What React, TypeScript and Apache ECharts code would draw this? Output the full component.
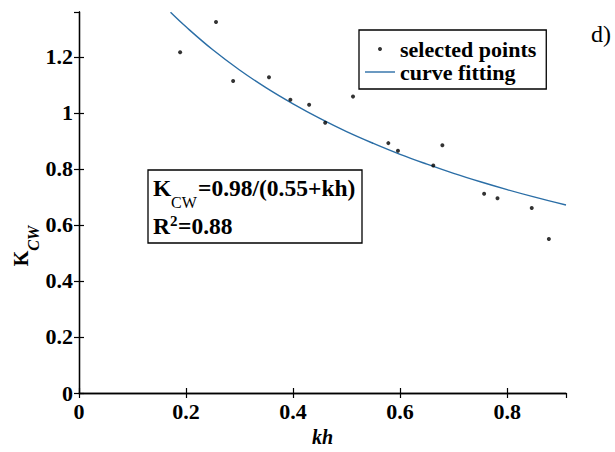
import React, { useEffect, useRef } from "react";
import * as echarts from "echarts";

const khPoints = [0.189, 0.256, 0.288, 0.355, 0.395, 0.43, 0.46, 0.512, 0.578, 0.596, 0.662, 0.679, 0.757, 0.782, 0.846, 0.878];
const kcwPoints = [1.216, 1.324, 1.114, 1.127, 1.047, 1.029, 0.965, 1.058, 0.892, 0.865, 0.812, 0.884, 0.711, 0.695, 0.66, 0.55];
const khCurve = [0.171, 0.2, 0.25, 0.3, 0.35, 0.4, 0.45, 0.5, 0.55, 0.6, 0.65, 0.7, 0.75, 0.8, 0.85, 0.91];
const kcwCurve = [1.359, 1.307, 1.225, 1.153, 1.089, 1.032, 0.98, 0.933, 0.891, 0.852, 0.817, 0.784, 0.754, 0.726, 0.7, 0.671];
const seriesNames = ["selected points", "curve fitting"];

const FONT = "Liberation Serif";

export default function App() {
  const ref = useRef<HTMLDivElement>(null);
  useEffect(() => {
    if (!ref.current) return;
    const chart = echarts.init(ref.current, null, { renderer: "svg" });
    const axisLine = { show: true, lineStyle: { color: "#000", width: 1.3 } };
    const tick = { show: true, inside: true, length: 5, lineStyle: { color: "#000", width: 1.2 } };
    const label = { fontFamily: FONT, fontWeight: "bold" as const, fontSize: 22, color: "#000", showMaxLabel: false };
    const t = (text: string, x: number, y: number, size: number, bold = true) => ({
      type: "text",
      x,
      y,
      z: 11,
      style: {
        text,
        fontFamily: FONT,
        fontSize: size,
        fontWeight: bold ? "bold" : "normal",
        fill: "#000",
        align: "left",
        verticalAlign: "middle",
      },
    });
    chart.setOption({
      animation: false,
      backgroundColor: "#fff",
      textStyle: { fontFamily: FONT },
      grid: { left: 79, right: 49, top: 12, bottom: 48, containLabel: false },
      xAxis: [
        {
          type: "value", min: 0, max: 0.91, interval: 0.2, position: "bottom",
          axisLine, axisTick: tick, splitLine: { show: false },
          axisLabel: { ...label, margin: 7 },
          name: "kh", nameLocation: "middle", nameGap: 34,
          nameTextStyle: { fontFamily: FONT, fontWeight: "bold", fontStyle: "italic", fontSize: 20, color: "#000" },
        },
        {
          type: "value", min: 0, max: 0.91, interval: 0.2, position: "top",
          axisLine, axisTick: tick, splitLine: { show: false }, axisLabel: { show: false },
        },
      ],
      yAxis: [
        {
          type: "value", min: 0, max: 1.36, interval: 0.2, position: "left",
          axisLine, axisTick: tick, splitLine: { show: false },
          axisLabel: { ...label, margin: 6 },
        },
        {
          type: "value", min: 0, max: 1.36, interval: 0.2, position: "right",
          axisLine, axisTick: tick, splitLine: { show: false }, axisLabel: { show: false },
        },
      ],
      legend: {
        orient: "vertical",
        left: 359,
        top: 30,
        padding: [8, 10, 6, 6],
        itemGap: 1,
        itemWidth: 30,
        itemHeight: 4,
        borderColor: "#000",
        borderWidth: 1.3,
        backgroundColor: "#fff",
        selectedMode: false,
        textStyle: { fontFamily: FONT, fontWeight: "bold", fontSize: 22, color: "#000", lineHeight: 21 },
        data: [
          { name: seriesNames[0], icon: "circle" },
          { name: seriesNames[1], icon: "path://M0,0L30,0L30,1.4L0,1.4Z" },
        ],
      },
      graphic: [
        {
          type: "rect",
          shape: { x: 148, y: 170, width: 214, height: 73 },
          style: { fill: "#fff", stroke: "#000", lineWidth: 1.3 },
          z: 10,
        },
        t("K", 153, 188, 23.5),
        t("CW", 171, 202, 16, false),
        t("=0.98/(0.55+kh)", 198, 188, 23.5),
        t("R", 153, 226, 23.5),
        t("2", 170, 221, 15),
        t("=0.88", 178, 226, 23.5),
        {
          type: "text",
          x: 26,
          y: 246,
          rotation: Math.PI / 2,
          z: 11,
          style: {
            text: "{k|K}{s|CW}",
            align: "center",
            verticalAlign: "middle",
            fill: "#000",
            rich: {
              k: { fontFamily: FONT, fontWeight: "bold", fontSize: 20, lineHeight: 30, verticalAlign: "top" },
              s: { fontFamily: FONT, fontWeight: "bold", fontStyle: "italic", fontSize: 16, lineHeight: 16, verticalAlign: "bottom" },
            },
          },
        },
        {
          type: "text",
          x: 591,
          y: 22,
          style: { text: "d)", fontFamily: FONT, fontSize: 24, fill: "#000" },
        },
      ],
      series: [
        {
          name: seriesNames[0],
          type: "scatter",
          symbol: "circle",
          symbolSize: 4,
          itemStyle: { color: "#000" },
          data: khPoints.map((x, i) => [x, kcwPoints[i]]),
          z: 3,
        },
        {
          name: seriesNames[1],
          type: "line",
          symbol: "none",
          smooth: 0.4,
          lineStyle: { color: "#2b6ea6", width: 1.4 },
          itemStyle: { color: "#2b6ea6" },
          data: khCurve.map((x, i) => [x, kcwCurve[i]]),
          z: 2,
        },
      ],
    });
    return () => chart.dispose();
  }, []);
  return <div ref={ref} style={{ position: "fixed", left: 0, top: 0, width: 615, height: 452 }} />;
}
